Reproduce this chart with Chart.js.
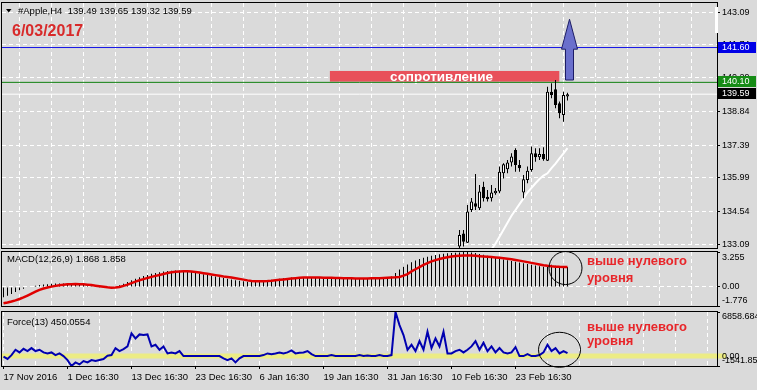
<!DOCTYPE html>
<html>
<head>
<meta charset="utf-8">
<script src="https://cdn.jsdelivr.net/npm/chart.js@4.4.1/dist/chart.umd.min.js"></script>
<style>
  html, body { margin: 0; padding: 0; background: #dadada; }
  #wrap { position: relative; width: 757px; height: 390px; overflow: hidden; background: #dadada; }
  canvas { position: absolute; left: 0; }
</style>
</head>
<body>
<div id="wrap">
  <canvas id="main" width="757" height="251" style="top:0px"></canvas>
  <canvas id="macd" width="757" height="58" style="top:250px"></canvas>
  <canvas id="force" width="757" height="82" style="top:308px"></canvas>
</div>
<script>
const FONT = '"Liberation Sans", Arial, sans-serif';

// time axis (H4 bars, bar 0 = 17 Nov 2016)
const xLabels = ["17 Nov 2016", "1 Dec 16:30", "13 Dec 16:30", "23 Dec 16:30", "6 Jan 16:30",
  "19 Jan 16:30", "31 Jan 16:30", "10 Feb 16:30", "23 Feb 16:30"];
const xLabelBars = [0, 16, 32, 48, 64, 80, 96, 112, 128];

// candles visible in the price window, starting at bar 114
const candleStart = 114;
const candleOpen = [133.02, 133.59, 133.19, 134.60, 134.89, 134.67, 135.60, 135.17, 135.10, 135.32,
  135.39, 136.18, 136.35, 136.64, 137.18, 136.54, 135.35, 135.89, 136.32, 137.04,
  136.87, 137.01, 136.72, 139.70, 139.80, 139.20, 138.69, 139.49];
const candleHigh = [133.74, 133.74, 134.81, 135.12, 136.15, 135.68, 135.82, 135.46, 135.68, 135.55,
  136.47, 136.61, 136.75, 137.04, 137.26, 136.75, 136.11, 136.47, 137.33, 137.26,
  137.26, 137.30, 139.91, 140.06, 140.20, 139.27, 139.70, 139.65];
const candleLow = [132.90, 133.02, 133.18, 134.51, 134.60, 134.60, 134.96, 134.96, 134.96, 135.25,
  135.32, 135.96, 136.18, 136.47, 136.25, 136.25, 135.10, 135.75, 136.25, 136.68,
  136.75, 136.72, 136.71, 139.41, 138.98, 138.55, 138.40, 139.32];
const candleClose = [133.52, 133.23, 134.53, 134.96, 134.74, 135.39, 135.10, 135.06, 135.35, 135.43,
  136.25, 136.57, 136.64, 136.90, 136.54, 136.40, 135.92, 136.29, 137.04, 136.87,
  137.01, 136.78, 139.70, 139.56, 139.12, 138.77, 139.56, 139.59];

// white moving average, starting at bar 120
const maStart = 120;
const maValues = [132.40, 132.65, 132.90, 133.15, 133.45, 133.75, 134.05, 134.35, 134.60, 134.85,
  135.10, 135.35, 135.55, 135.75, 135.93, 136.08, 136.18, 136.40, 136.60, 136.82, 137.04, 137.26];

const priceTicks = [133.09, 134.54, 135.99, 137.39, 138.84, 140.29, 141.74, 143.09];
const priceLevels = [141.60, 140.10, 139.59];
const levelText = ["141.60", "140.10", "139.59"];

// "сопротивление" zone and the arrow (bar index / price)
const zoneBars = [81.6, 138.95];
const zonePrices = [140.13, 140.59];
const arrowBar = 141.5;
const arrowPrices = [140.20, 141.53, 142.82]; // shaft bottom, head base, tip

// MACD(12,26,9)
const macdMain = [
  -0.95, -0.82, -0.66, -0.48, -0.30, -0.16, -0.05, 0.04, 0.11, 0.17,
  0.22, 0.26, 0.29, 0.31, 0.32, 0.32, 0.31, 0.29, 0.26, 0.22,
  0.17, 0.12, 0.07, 0.02, -0.02, -0.05, -0.07, -0.05, 0.03, 0.15,
  0.30, 0.46, 0.62, 0.77, 0.90, 1.02, 1.12, 1.22, 1.30, 1.37,
  1.43, 1.48, 1.51, 1.52, 1.51, 1.48, 1.44, 1.39, 1.33, 1.26,
  1.19, 1.12, 1.05, 0.98, 0.91, 0.84, 0.77, 0.70, 0.63, 0.57,
  0.52, 0.49, 0.48, 0.49, 0.52, 0.56, 0.61, 0.66, 0.71, 0.76,
  0.80, 0.84, 0.87, 0.89, 0.91, 0.91, 0.90, 0.89, 0.87, 0.86,
  0.85, 0.84, 0.83, 0.82, 0.81, 0.80, 0.79, 0.78, 0.78, 0.79,
  0.80, 0.81, 0.83, 0.85, 0.88, 0.90, 0.93, 0.98, 1.30, 1.62,
  1.88, 2.10, 2.30, 2.46, 2.60, 2.72, 2.82, 2.91, 2.98, 3.04,
  3.09, 3.13, 3.16, 3.19, 3.22, 3.25, 3.255, 3.22, 3.16, 3.08,
  2.99, 2.90, 2.81, 2.72, 2.64, 2.56, 2.49, 2.42, 2.35, 2.28,
  2.21, 2.14, 2.07, 2.00, 1.93, 1.87, 2.02, 2.06, 1.98, 1.88,
  1.90, 1.868];
const macdSignal = [
  -1.52, -1.45, -1.36, -1.25, -1.12, -0.97, -0.80, -0.62, -0.44, -0.28,
  -0.15, -0.05, 0.03, 0.10, 0.16, 0.21, 0.24, 0.26, 0.27, 0.26,
  0.24, 0.21, 0.17, 0.12, 0.07, 0.02, -0.03, -0.07, -0.06, 0.00,
  0.10, 0.22, 0.36, 0.50, 0.62, 0.73, 0.84, 0.94, 1.03, 1.12,
  1.21, 1.29, 1.36, 1.41, 1.44, 1.46, 1.46, 1.44, 1.40, 1.34,
  1.28, 1.22, 1.16, 1.10, 1.04, 0.98, 0.93, 0.87, 0.81, 0.75,
  0.68, 0.61, 0.56, 0.54, 0.54, 0.54, 0.55, 0.58, 0.62, 0.66,
  0.70, 0.74, 0.78, 0.82, 0.86, 0.88, 0.89, 0.89, 0.88, 0.87,
  0.86, 0.86, 0.85, 0.84, 0.83, 0.82, 0.81, 0.80, 0.79, 0.79,
  0.79, 0.79, 0.80, 0.81, 0.82, 0.84, 0.86, 0.88, 0.90, 0.93,
  1.05, 1.20, 1.45, 1.65, 1.85, 2.05, 2.22, 2.38, 2.50, 2.60,
  2.70, 2.77, 2.83, 2.88, 2.91, 2.93, 2.93, 2.92, 2.90, 2.87,
  2.84, 2.81, 2.78, 2.75, 2.71, 2.67, 2.63, 2.57, 2.51, 2.45,
  2.38, 2.31, 2.24, 2.17, 2.10, 2.03, 1.97, 1.92, 1.89, 1.87,
  1.86, 1.858];
const macdTicks = [3.255, 0, -1.776];
const macdTickText = ["3.255", "0.00", "-1.776"];

// Force(13)
const forceValues = [
  -100, -450, 150, 985, 570, 1140, 780, 1240, 780, 985,
  570, 415, 570, 155, 415, 0, -620, -1540, -985, -1296,
  -778, -985, -620, -778, -620, -450, 50, 155, 1240, 780,
  1090, 1500, 3525, 2750, 3370, 3266, 3370, 1500, 1760, 985,
  1500, 415, 570, 415, 780, 0, 0, 0, 0, 0,
  0, 0, 0, 0, 0, -360, -620, -360, -985, -360,
  0, 0, 0, 0, 0, 155, 415, 300, 415, 570,
  415, 570, 880, 415, 520, 570, 780, 300, 0, 0,
  0, 0, 150, 0, 0, 0, 0, 0, 0, 150,
  0, 100, 0, 0, 150, 0, 0, 155, 6858.684, 4820,
  3266, 985, 1760, 780, 2333, 985, 3784, 1244, 2747, 1503,
  3784, 415, 415, 780, 985, 570, 985, 1503, 2333, 985,
  2073, 778, 1503, 570, 1244, 570, 415, 570, 1400, 0,
  0, 300, 0, 0, 155, 570, 1760, 780, 1244, 415,
  780, 450.0554];
const forceTicks = [6858.684, 0, -1541.85];
const forceTickText = ["6858.684", "0.00", "-1541.85"];

// circled areas (bar index / value) and notes
const macdCircle = [140.5, 1.76];
const forceCircle = [139, 980];
const noteLines = ["выше нулевого", "уровня"];

const X_MIN = -0.375, X_MAX = 178.375;
const GRID_DASH = [4, 3];

function noPad(s) {
  s.paddingTop = 0; s.paddingBottom = 0; s.paddingLeft = 0; s.paddingRight = 0;
}

function xScale(showLabels) {
  return {
    type: "linear", min: X_MIN, max: X_MAX, offset: false,
    afterBuildTicks: s => {
      const t = [];
      for (let v = 0; v <= 176; v += 8) t.push({ value: v });
      s.ticks = t;
    },
    grid: {
      color: "#ffffff", lineWidth: 1, borderDash: GRID_DASH, drawTicks: showLabels, tickLength: 3,
      tickColor: c => (c.tick && xLabelBars.includes(c.tick.value)) ? "#000" : "rgba(0,0,0,0)",
      tickBorderDash: [0, 0]
    },
    border: { display: false, dash: GRID_DASH },
    ticks: {
      display: showLabels, autoSkip: false, maxRotation: 0, minRotation: 0, align: "start",
      padding: 3, color: "#000", font: { family: FONT, size: 9.5 },
      callback: v => { const k = xLabelBars.indexOf(v); return k < 0 ? "" : xLabels[k]; }
    },
    afterFit: s => { s.height = showLabels ? 24 : 0; noPad(s); }
  };
}

function drawFrame(chart) {
  const a = chart.chartArea, ctx = chart.ctx;
  ctx.save();
  ctx.strokeStyle = "#000";
  ctx.lineWidth = 1;
  ctx.strokeRect(a.left - 0.5, a.top - 0.5, a.right - a.left + 1, a.bottom - a.top + 1);
  ctx.restore();
}

function drawAxisText(chart, values, texts, pad) {
  const ys = chart.scales.y, a = chart.chartArea, ctx = chart.ctx;
  ctx.save();
  ctx.font = "9px " + FONT;
  ctx.fillStyle = "#000";
  ctx.textBaseline = "middle";
  values.forEach((v, k) => {
    const py = Math.min(Math.max(ys.getPixelForValue(v), a.top + pad), a.bottom - pad);
    ctx.fillText(texts[k], a.right + 5, py);
  });
  ctx.restore();
}

function drawNote(chart, circle, rx, ry, x, y0, y1) {
  const ctx = chart.ctx;
  const cx = chart.scales.x.getPixelForValue(circle[0]);
  const cy = chart.scales.y.getPixelForValue(circle[1]);
  ctx.save();
  ctx.strokeStyle = "#000";
  ctx.lineWidth = 1;
  ctx.beginPath();
  ctx.ellipse(cx, cy, rx, ry, 0, 0, Math.PI * 2);
  ctx.stroke();
  ctx.fillStyle = "#e8262a";
  ctx.font = "bold 13px " + FONT;
  ctx.textBaseline = "alphabetic";
  ctx.fillText(noteLines[0], x, y0);
  ctx.fillText(noteLines[1], x, y1);
  ctx.restore();
}

const base = {
  responsive: false, animation: false, events: [],
  plugins: { legend: { display: false }, tooltip: { enabled: false } }
};

// ---------- price window ----------
const bodies = candleOpen.map((o, k) => ({ x: candleStart + k, y: [o, candleClose[k]] }));
const wicks = candleLow.map((l, k) => ({ x: candleStart + k, y: [l, candleHigh[k]] }));
const levelLineColors = ["#1414e6", "#0f800f", "#ffffff"];
const levelBoxColors = ["#0000e6", "#168c16", "#000000"];

const mainOverlay = {
  id: "mainOverlay",
  beforeDatasetsDraw(chart) {
    const ctx = chart.ctx, xs = chart.scales.x, ys = chart.scales.y;
    const x0 = xs.getPixelForValue(zoneBars[0]), x1 = xs.getPixelForValue(zoneBars[1]);
    const y0 = ys.getPixelForValue(zonePrices[1]), y1 = ys.getPixelForValue(zonePrices[0]);
    ctx.save();
    ctx.fillStyle = "#e8505a";
    ctx.fillRect(x0, y0, x1 - x0, y1 - y0);
    ctx.fillStyle = "#ffffff";
    ctx.font = "bold 13.5px " + FONT;
    ctx.textAlign = "center";
    ctx.textBaseline = "middle";
    ctx.fillText("сопротивление", (x0 + x1) / 2 - 3, (y0 + y1) / 2 + 0.5);
    ctx.restore();
  },
  afterDatasetsDraw(chart) {
    const ctx = chart.ctx, xs = chart.scales.x, ys = chart.scales.y;
    const cx = xs.getPixelForValue(arrowBar);
    const sh = xs.getPixelForValue(arrowBar + 1) - cx;
    const hh = 2 * sh;
    const yb = ys.getPixelForValue(arrowPrices[0]);
    const yn = ys.getPixelForValue(arrowPrices[1]);
    const yt = ys.getPixelForValue(arrowPrices[2]);
    ctx.save();
    ctx.beginPath();
    ctx.moveTo(cx - sh, yb);
    ctx.lineTo(cx - sh, yn);
    ctx.lineTo(cx - hh, yn);
    ctx.lineTo(cx, yt);
    ctx.lineTo(cx + hh, yn);
    ctx.lineTo(cx + sh, yn);
    ctx.lineTo(cx + sh, yb);
    ctx.closePath();
    ctx.fillStyle = "#6a6fcc";
    ctx.fill();
    ctx.strokeStyle = "#1c1c66";
    ctx.lineWidth = 1;
    ctx.stroke();
    ctx.restore();
  },
  afterDraw(chart) {
    const ctx = chart.ctx, a = chart.chartArea, ys = chart.scales.y;
    drawFrame(chart);
    ctx.save();
    // chart shift marker
    ctx.fillStyle = "#ffffff";
    ctx.fillRect(a.right - 2, a.top + 4, 3, 26);
    // price boxes
    ctx.font = "9px " + FONT;
    ctx.textBaseline = "middle";
    priceLevels.forEach((v, k) => {
      const py = Math.round(ys.getPixelForValue(v));
      ctx.fillStyle = levelBoxColors[k];
      ctx.fillRect(a.right + 1, py - 6, 38, 11);
      ctx.fillStyle = "#ffffff";
      ctx.fillText(levelText[k], a.right + 5, py);
    });
    // header
    ctx.fillStyle = "#000";
    ctx.beginPath();
    ctx.moveTo(6, 9); ctx.lineTo(11.5, 9); ctx.lineTo(8.75, 12.5); ctx.closePath();
    ctx.fill();
    ctx.font = "9.5px " + FONT;
    ctx.textBaseline = "alphabetic";
    ctx.fillText("#Apple,H4  139.49 139.65 139.32 139.59", 18, 13.5);
    ctx.fillStyle = "#d82a2a";
    ctx.font = "bold 16px " + FONT;
    ctx.fillText("6/03/2017", 12, 36);
    ctx.restore();
  }
};

new Chart(document.getElementById("main"), {
  type: "bar",
  data: {
    datasets: [
      { type: "bar", data: bodies, grouped: false, barThickness: 3, inflateAmount: 0,
        backgroundColor: candleOpen.map((o, k) => candleClose[k] >= o ? "#ffffff" : "#000000"),
        borderColor: "#000", borderWidth: 1, borderSkipped: false },
      { type: "bar", data: wicks, grouped: false, barThickness: 1, inflateAmount: 0,
        backgroundColor: "#000", borderWidth: 0 },
      { type: "line", data: maValues.map((v, k) => ({ x: maStart + k, y: v })),
        borderColor: "#ffffff", borderWidth: 2, pointRadius: 0 },
      ...priceLevels.map((v, k) => ({
        type: "line", data: [{ x: X_MIN, y: v }, { x: X_MAX, y: v }],
        borderColor: levelLineColors[k], borderWidth: 1, pointRadius: 0
      }))
    ]
  },
  options: {
    ...base,
    layout: { padding: { left: 2, top: 3, right: 0, bottom: 3 } },
    scales: {
      x: xScale(false),
      y: {
        position: "right", min: 132.96, max: 143.52,
        afterBuildTicks: s => { s.ticks = priceTicks.map(v => ({ value: v })); },
        grid: { color: "#ffffff", borderDash: GRID_DASH, tickLength: 3, tickColor: "#000", tickBorderDash: [0, 0] },
        border: { display: false, dash: GRID_DASH },
        ticks: { padding: 2, color: "#000", font: { family: FONT, size: 9 }, callback: v => v.toFixed(2) },
        afterFit: s => { s.width = 40; noPad(s); }
      }
    }
  },
  plugins: [mainOverlay]
});

// ---------- MACD window ----------
new Chart(document.getElementById("macd"), {
  type: "bar",
  data: {
    datasets: [
      { type: "line", data: macdSignal.map((v, i) => ({ x: i, y: v })),
        borderColor: "#e00000", borderWidth: 2.5, pointRadius: 0 },
      { type: "bar", data: macdMain.map((v, i) => ({ x: i, y: v })),
        grouped: false, barThickness: 1, inflateAmount: 0, backgroundColor: "#000" }
    ]
  },
  options: {
    ...base,
    layout: { padding: { left: 2, top: 2, right: 0, bottom: 2 } },
    scales: {
      x: xScale(false),
      y: {
        position: "right", min: -1.776, max: 3.255,
        afterBuildTicks: s => { s.ticks = macdTicks.map(v => ({ value: v })); },
        grid: { color: c => (c.tick && c.tick.value === 0) ? "#ffffff" : "rgba(0,0,0,0)",
          borderDash: GRID_DASH, tickLength: 3, tickColor: "#000", tickBorderDash: [0, 0] },
        border: { display: false, dash: GRID_DASH },
        ticks: { display: false },
        afterFit: s => { s.width = 40; noPad(s); }
      }
    }
  },
  plugins: [{
    id: "macdOverlay",
    afterDraw(chart) {
      const ctx = chart.ctx;
      drawFrame(chart);
      drawAxisText(chart, macdTicks, macdTickText, 5.5);
      ctx.save();
      ctx.fillStyle = "#000";
      ctx.font = "9.5px " + FONT;
      ctx.fillText("MACD(12,26,9) 1.868 1.858", 7, 12);
      ctx.restore();
      drawNote(chart, macdCircle, 16.5, 16.5, 587, 15, 31.5);
    }
  }]
});

// ---------- Force window ----------
new Chart(document.getElementById("force"), {
  type: "line",
  data: {
    datasets: [
      { data: forceValues.map((v, i) => ({ x: i, y: v })),
        borderColor: "#0000b0", borderWidth: 2, pointRadius: 0 }
    ]
  },
  options: {
    ...base,
    layout: { padding: { left: 2, top: 4, right: 0, bottom: 0 } },
    scales: {
      x: xScale(true),
      y: {
        position: "right", min: -1541.85, max: 6858.684,
        afterBuildTicks: s => { s.ticks = forceTicks.map(v => ({ value: v })); },
        grid: { color: "rgba(0,0,0,0)", tickLength: 3, tickColor: "#000", tickBorderDash: [0, 0] },
        border: { display: false },
        ticks: { display: false },
        afterFit: s => { s.width = 40; noPad(s); }
      }
    }
  },
  plugins: [{
    id: "forceOverlay",
    beforeDatasetsDraw(chart) {
      const ctx = chart.ctx, a = chart.chartArea;
      const y0 = chart.scales.y.getPixelForValue(0);
      ctx.save();
      ctx.strokeStyle = "#ecec84";
      ctx.lineWidth = 5;
      ctx.beginPath();
      ctx.moveTo(a.left, y0);
      ctx.lineTo(a.right + 9, y0);
      ctx.stroke();
      ctx.restore();
    },
    afterDraw(chart) {
      const ctx = chart.ctx;
      drawFrame(chart);
      drawAxisText(chart, forceTicks, forceTickText, 5);
      ctx.save();
      ctx.fillStyle = "#000";
      ctx.font = "9.5px " + FONT;
      ctx.fillText("Force(13) 450.0554", 7, 17);
      ctx.restore();
      drawNote(chart, forceCircle, 21, 17.5, 587, 23, 37);
    }
  }]
});
</script>
</body>
</html>
